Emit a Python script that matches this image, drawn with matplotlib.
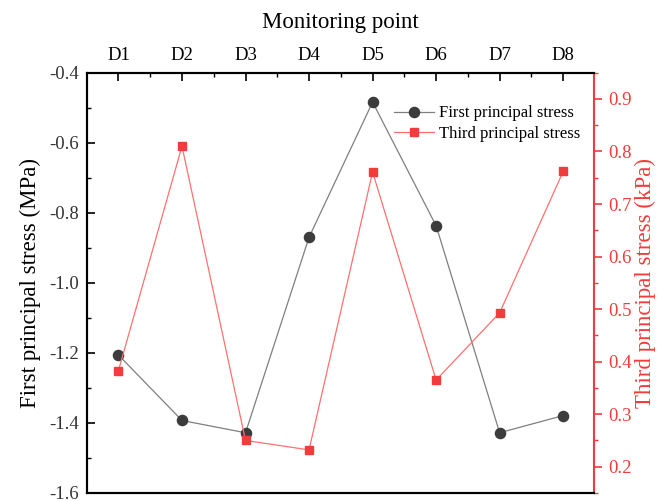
import numpy as np
import matplotlib
matplotlib.use('Agg')
from matplotlib import pyplot as plt
from matplotlib.ticker import MultipleLocator, FormatStrFormatter

plt.rcParams['font.family'] = ['Liberation Serif', 'DejaVu Serif']

points = ['D1', 'D2', 'D3', 'D4', 'D5', 'D6', 'D7', 'D8']
first_stress = [-1.206, -1.393, -1.428, -0.870, -0.484, -0.837, -1.428, -1.379]   # MPa
third_stress = [0.383, 0.810, 0.250, 0.232, 0.761, 0.365, 0.493, 0.762]           # kPa

red = '#f03c3c'
x = np.arange(1, len(points) + 1)

fig = plt.figure(figsize=(6.57, 5.01), dpi=100)
ax = fig.add_axes([0.1329, 0.016, 0.7717, 0.8389])
ax2 = ax.twinx()

l1, = ax.plot(x, first_stress, color='#7f7f7f', lw=0.9, marker='o', ms=7.3,
              mfc='#3c3c3c', mec='#3c3c3c', label='First principal stress')
l2, = ax2.plot(x, third_stress, color='#ff7070', lw=0.9, marker='s', ms=6,
               mfc=red, mec=red, label='Third principal stress')

ax.set_xlim(0.51, 8.49)
ax.set_ylim(-1.6, -0.4)
ax2.set_ylim(0.15, 0.95)

ax.xaxis.tick_top()
ax.xaxis.set_label_position('top')
ax.set_xticks(x)
ax.set_xticklabels(points)
ax.xaxis.set_minor_locator(MultipleLocator(0.5))
ax.set_xlabel('Monitoring point', fontsize=16.5, labelpad=14)

ax.yaxis.set_major_locator(MultipleLocator(0.2))
ax.yaxis.set_minor_locator(MultipleLocator(0.1))
ax.yaxis.set_major_formatter(FormatStrFormatter('%.1f'))
ax.set_ylabel('First principal stress (MPa)', fontsize=16.5, labelpad=6)

ax.tick_params(axis='x', which='major', direction='in', length=6, width=1.2,
               labelsize=13.5, pad=6, top=True, bottom=False)
ax.tick_params(axis='x', which='minor', direction='in', length=3, width=1,
               top=True, bottom=False)
ax.tick_params(axis='y', which='major', direction='in', length=6, width=1.2,
               labelsize=13.5, labelcolor='#333333', pad=6)
ax.tick_params(axis='y', which='minor', direction='in', length=3, width=1)

ax2.yaxis.set_major_locator(MultipleLocator(0.1))
ax2.yaxis.set_minor_locator(MultipleLocator(0.05))
ax2.tick_params(axis='y', which='major', direction='out', length=6, width=1.2,
                labelsize=13.5, colors=red, pad=4)
ax2.tick_params(axis='y', which='minor', direction='out', length=3, width=1,
                colors=red)
ax2.set_ylabel('Third principal stress (kPa)', fontsize=16.5, color=red, labelpad=2)

for s in ['left', 'top', 'bottom']:
    ax.spines[s].set_linewidth(1.5)
    ax2.spines[s].set_linewidth(1.5)
ax2.spines['right'].set_color(red)
ax2.spines['right'].set_linewidth(1.5)
ax.spines['right'].set_visible(False)

ax2.legend(handles=[l1, l2], loc='upper right', bbox_to_anchor=(0.986, 0.938),
           frameon=False, fontsize=12, handlelength=2.4, handletextpad=0.3,
           labelspacing=0.28, borderaxespad=0)

fig.savefig('out.png', dpi=100)
